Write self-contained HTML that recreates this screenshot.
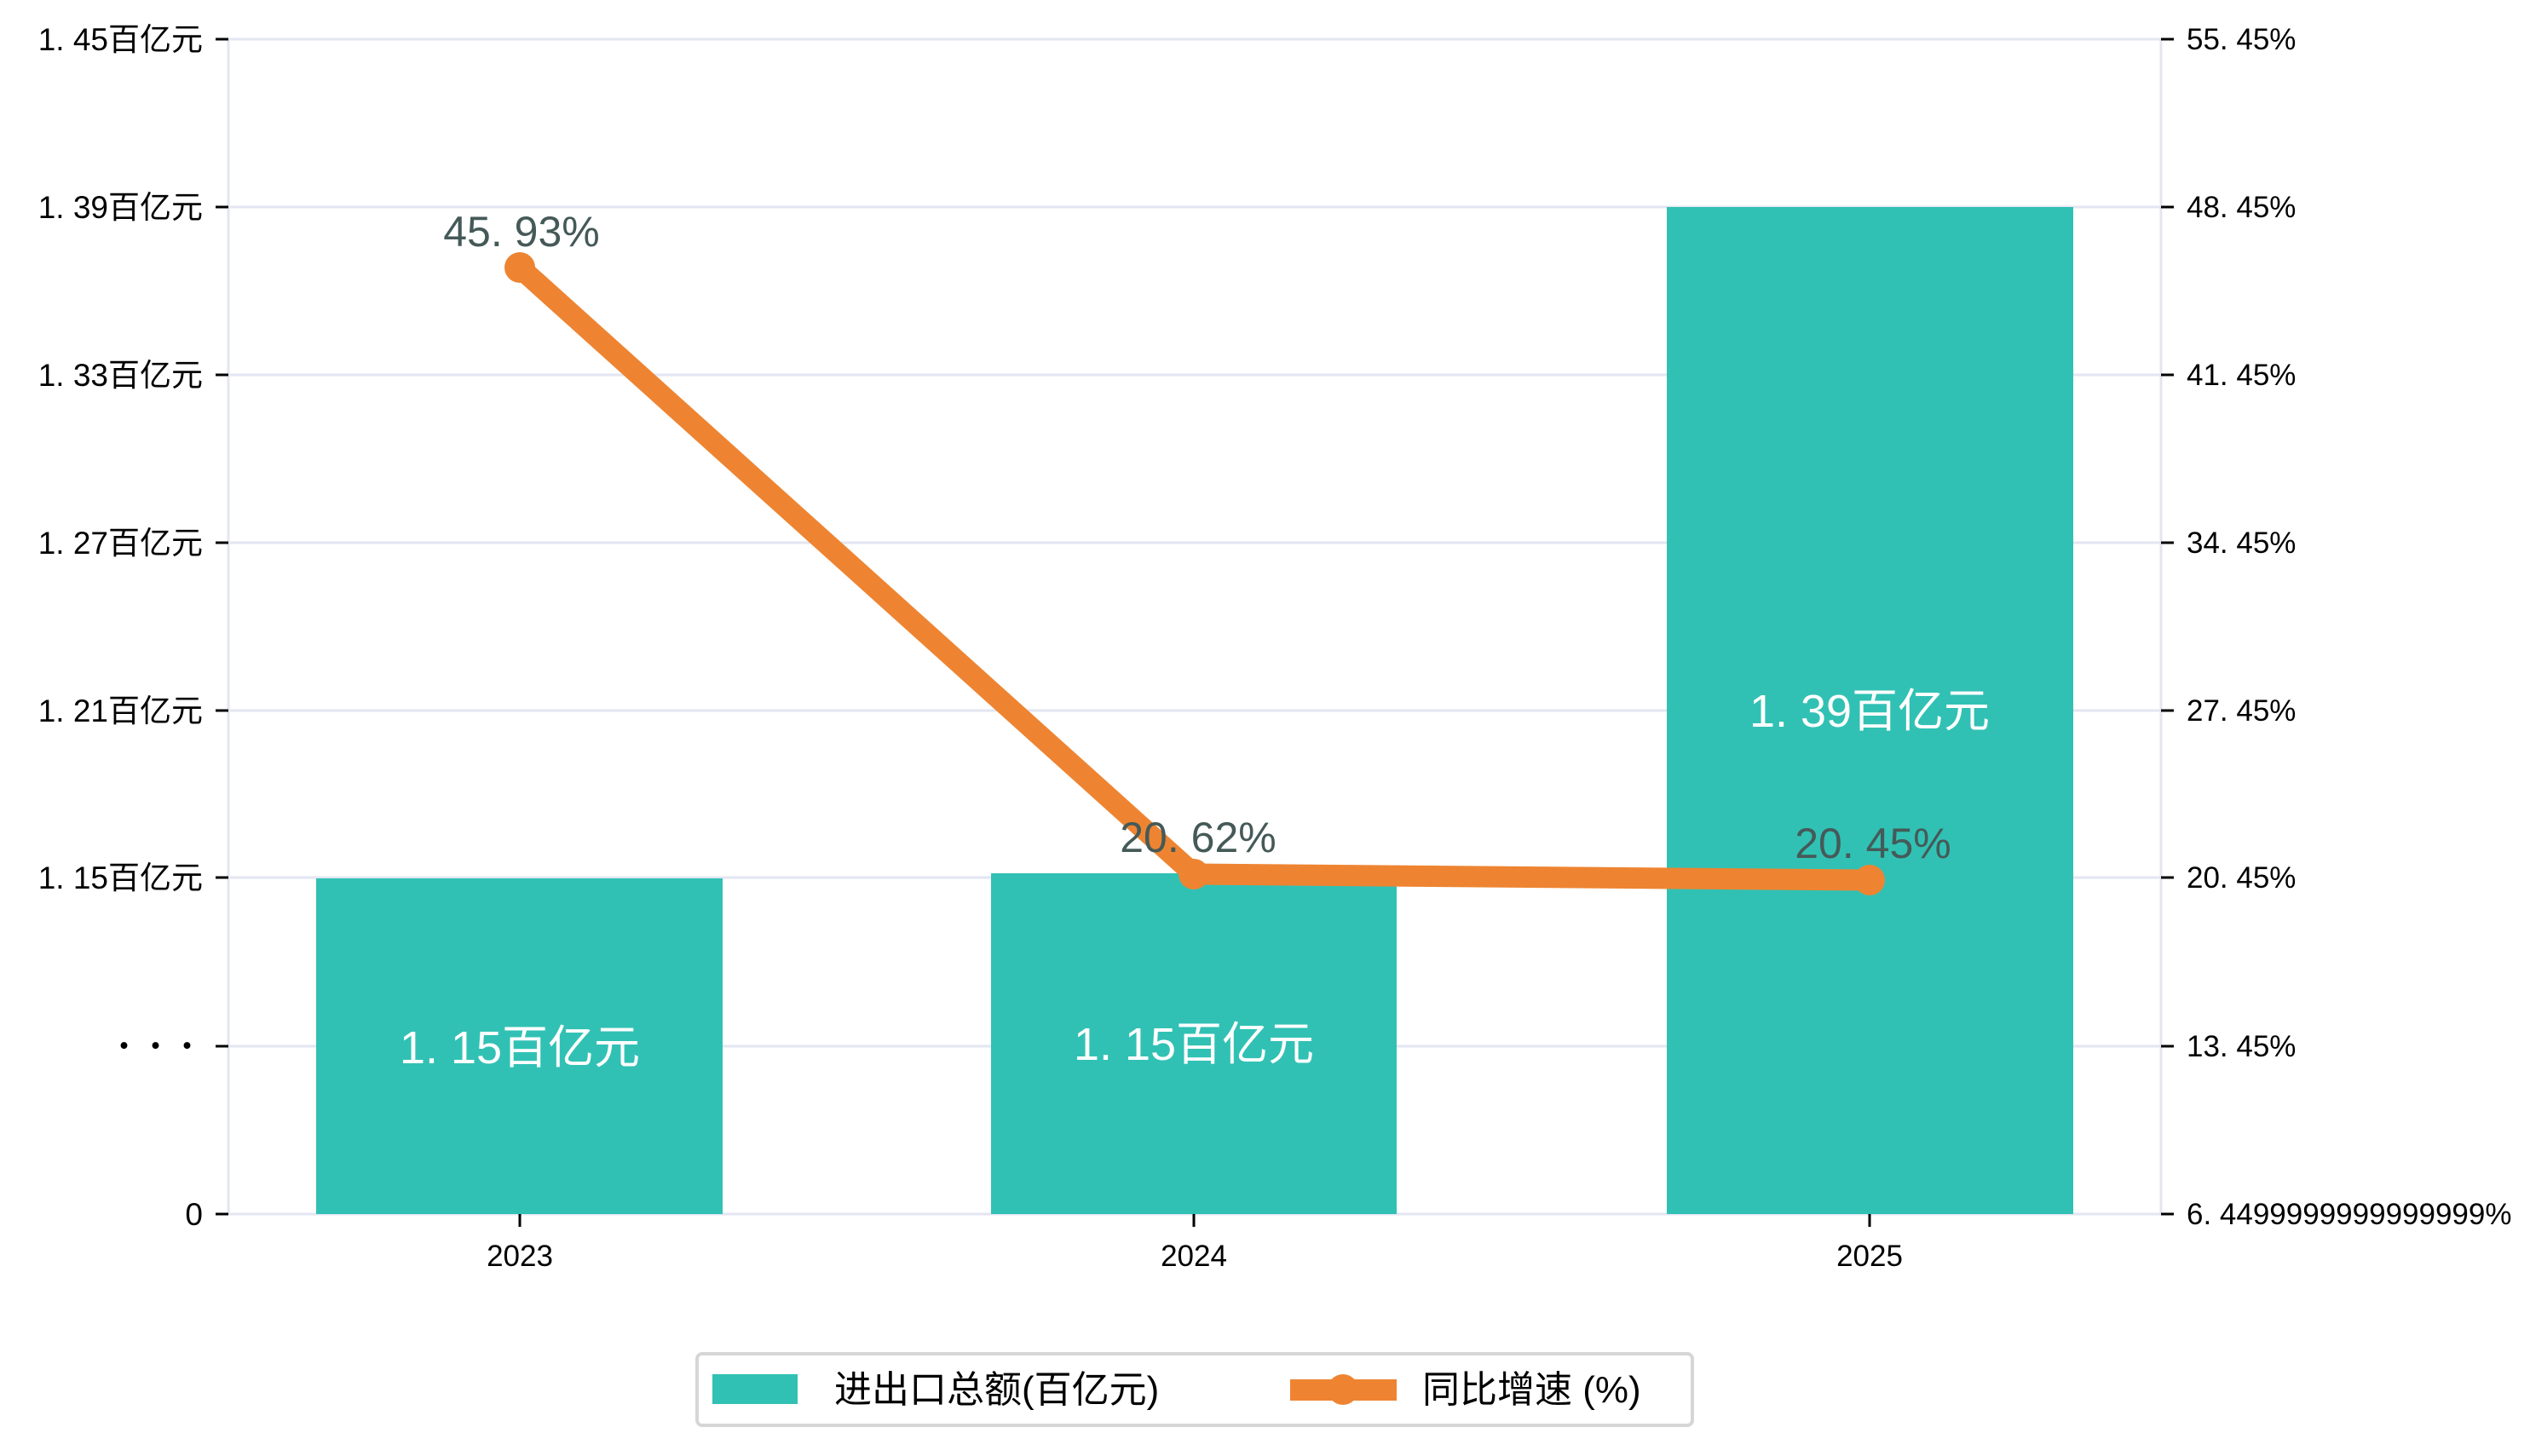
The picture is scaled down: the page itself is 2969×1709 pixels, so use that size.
<!DOCTYPE html>
<html><head><meta charset="utf-8"><style>
html,body{margin:0;padding:0;background:#fff;}
svg text{font-family:"Liberation Sans","Noto Sans CJK SC",sans-serif;}
</style></head><body>
<svg width="2969" height="1704" viewBox="0 0 2969 1704" xmlns="http://www.w3.org/2000/svg">
<g stroke="#e3e6f2" stroke-width="3">
<line x1="268" y1="46" x2="2536" y2="46"/>
<line x1="268" y1="243" x2="2536" y2="243"/>
<line x1="268" y1="440" x2="2536" y2="440"/>
<line x1="268" y1="637" x2="2536" y2="637"/>
<line x1="268" y1="834" x2="2536" y2="834"/>
<line x1="268" y1="1030" x2="2536" y2="1030"/>
<line x1="268" y1="1228" x2="2536" y2="1228"/>
<line x1="268" y1="1425" x2="2536" y2="1425"/>
<line x1="268" y1="46" x2="268" y2="1425"/>
<line x1="2536" y1="46" x2="2536" y2="1425"/>
</g>
<g fill="#31c1b4">
<rect x="371" y="1031" width="477" height="394"/>
<rect x="1163" y="1025" width="476" height="400"/>
<rect x="1956" y="243" width="477" height="1182"/>
</g>
<g stroke="#000" stroke-width="3">
<line x1="253" y1="46" x2="268" y2="46"/><line x1="253" y1="243" x2="268" y2="243"/>
<line x1="253" y1="440" x2="268" y2="440"/><line x1="253" y1="637" x2="268" y2="637"/>
<line x1="253" y1="834" x2="268" y2="834"/><line x1="253" y1="1030" x2="268" y2="1030"/>
<line x1="253" y1="1228" x2="268" y2="1228"/><line x1="253" y1="1425" x2="268" y2="1425"/>
<line x1="2536" y1="46" x2="2551" y2="46"/><line x1="2536" y1="243" x2="2551" y2="243"/>
<line x1="2536" y1="440" x2="2551" y2="440"/><line x1="2536" y1="637" x2="2551" y2="637"/>
<line x1="2536" y1="834" x2="2551" y2="834"/><line x1="2536" y1="1030" x2="2551" y2="1030"/>
<line x1="2536" y1="1228" x2="2551" y2="1228"/><line x1="2536" y1="1425" x2="2551" y2="1425"/>
<line x1="610" y1="1425" x2="610" y2="1440"/><line x1="1401" y1="1425" x2="1401" y2="1440"/>
<line x1="2194" y1="1425" x2="2194" y2="1440"/>
</g>
<g font-size="37" fill="#000" text-anchor="end">
<text x="238" y="59">1. 45百亿元</text>
<text x="238" y="256">1. 39百亿元</text>
<text x="238" y="453">1. 33百亿元</text>
<text x="238" y="650">1. 27百亿元</text>
<text x="238" y="847">1. 21百亿元</text>
<text x="238" y="1043">1. 15百亿元</text>
<text x="238" y="1241">・・・</text>
<text x="238" y="1438">0</text>
</g>
<g font-size="35" fill="#000">
<text x="2566" y="58">55. 45%</text>
<text x="2566" y="255">48. 45%</text>
<text x="2566" y="452">41. 45%</text>
<text x="2566" y="649">34. 45%</text>
<text x="2566" y="846">27. 45%</text>
<text x="2566" y="1042">20. 45%</text>
<text x="2566" y="1240">13. 45%</text>
<text x="2566" y="1437">6. 4499999999999999%</text>
</g>
<g font-size="35" fill="#000" text-anchor="middle">
<text x="610" y="1486">2023</text><text x="1401" y="1486">2024</text><text x="2194" y="1486">2025</text>
</g>
<polyline points="610,314 1401,1026 2194,1033" fill="none" stroke="#ee8431" stroke-width="25" stroke-linejoin="round"/>
<g fill="#ee8431"><circle cx="610" cy="314" r="18"/><circle cx="1401" cy="1026" r="18"/><circle cx="2194" cy="1033" r="18"/></g>
<g font-size="50" fill="#455a58" text-anchor="middle">
<text x="612" y="289">45. 93%</text>
<text x="1406" y="1000">20. 62%</text>
<text x="2198" y="1007">20. 45%</text>
</g>
<g font-size="54" fill="#fff" text-anchor="middle">
<text x="610" y="1248">1. 15百亿元</text>
<text x="1401" y="1244">1. 15百亿元</text>
<text x="2194" y="853">1. 39百亿元</text>
</g>
<rect x="818" y="1589" width="1168" height="84" rx="6" fill="#fff" stroke="#d6d6d6" stroke-width="4"/>
<rect x="836" y="1613" width="100" height="35" fill="#31c1b4"/>
<text x="979" y="1646" font-size="44" fill="#000">进出口总额(百亿元)</text>
<rect x="1514" y="1619" width="125" height="25" fill="#ee8431"/>
<circle cx="1576" cy="1631" r="18" fill="#ee8431"/>
<text x="1669" y="1646" font-size="44" fill="#000">同比增速 (%)</text>
</svg>
</body></html>
